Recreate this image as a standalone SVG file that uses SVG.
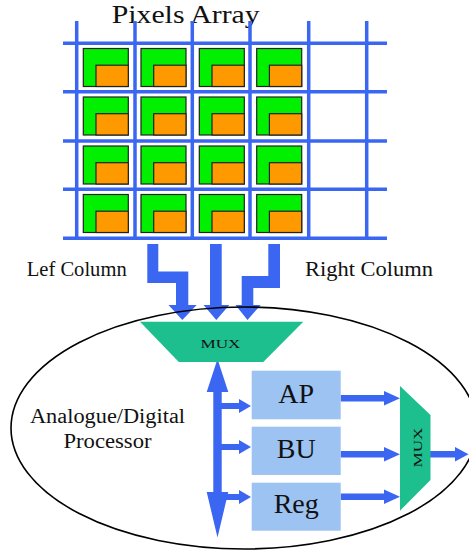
<svg xmlns="http://www.w3.org/2000/svg" xmlns:xlink="http://www.w3.org/1999/xlink" width="469" height="553" viewBox="0 0 469 553">
  <style>
    .grid { stroke: #3B66F2; stroke-width: 3.5; fill: none; }
    .arrow { fill: #3B66F2; stroke: none; }
    .mux { fill: #1DBF8E; stroke: none; }
    .block { fill: #9CC3F2; stroke: none; }
    .px-outer { fill: #00F000; stroke: #222; stroke-width: 1.2; }
    .px-inner { fill: #FF9900; stroke: #222; stroke-width: 1.2; }
  </style>
  <defs>
    <!-- one pixel cell: photodiode (green) with readout corner (orange) -->
    <g id="pixel">
      <rect class="px-outer" x="0" y="0" width="45" height="38"/>
      <rect class="px-inner" x="12.7" y="16.7" width="32.3" height="21.3"/>
    </g>
    <!-- horizontal arrow, tip at origin, pointing right -->
    <path id="harrow" d="M0,0 L-12,-7 L-12,-3 L-30,-3 L-30,3 L-12,3 L-12,7 Z"/>
  </defs>

  <rect width="469" height="553" fill="#fff"/>

  <!-- title -->
  <text font-family="'Liberation Serif', serif" fill="#111" x="111.7" y="22.7" font-size="25" textLength="148" lengthAdjust="spacingAndGlyphs">Pixels Array</text>
  <!-- column labels -->
  <text font-family="'Liberation Serif', serif" fill="#111" x="26.7" y="275.7" font-size="20" textLength="100" lengthAdjust="spacingAndGlyphs">Lef Column</text>
  <text font-family="'Liberation Serif', serif" fill="#111" x="305" y="276" font-size="20" textLength="128" lengthAdjust="spacingAndGlyphs">Right Column</text>
  <!-- processor label -->
  <g id="processor-label">
    <text font-family="'Liberation Serif', serif" fill="#111" x="107.5" y="423" font-size="20" text-anchor="middle" textLength="155" lengthAdjust="spacingAndGlyphs">Analogue/Digital</text>
    <text font-family="'Liberation Serif', serif" fill="#111" x="107.5" y="447.7" font-size="20" text-anchor="middle" textLength="88" lengthAdjust="spacingAndGlyphs">Processor</text>
  </g>

  <!-- pixel array -->
  <g id="pixel-array">
    <g id="pixels">
      <use xlink:href="#pixel" x="83.3" y="48.5"/>
      <use xlink:href="#pixel" x="141" y="48.5"/>
      <use xlink:href="#pixel" x="199.3" y="48.5"/>
      <use xlink:href="#pixel" x="256.7" y="48.5"/>
      <use xlink:href="#pixel" x="83.3" y="97"/>
      <use xlink:href="#pixel" x="141" y="97"/>
      <use xlink:href="#pixel" x="199.3" y="97"/>
      <use xlink:href="#pixel" x="256.7" y="97"/>
      <use xlink:href="#pixel" x="83.3" y="146"/>
      <use xlink:href="#pixel" x="141" y="146"/>
      <use xlink:href="#pixel" x="199.3" y="146"/>
      <use xlink:href="#pixel" x="256.7" y="146"/>
      <use xlink:href="#pixel" x="83.3" y="194.5"/>
      <use xlink:href="#pixel" x="141" y="194.5"/>
      <use xlink:href="#pixel" x="199.3" y="194.5"/>
      <use xlink:href="#pixel" x="256.7" y="194.5"/>
    </g>
    <g id="grid" class="grid">
      <line x1="76.7" y1="21" x2="76.7" y2="240"/>
      <line x1="135" y1="21" x2="135" y2="240"/>
      <line x1="192.3" y1="21" x2="192.3" y2="240"/>
      <line x1="250" y1="21" x2="250" y2="240"/>
      <line x1="308.7" y1="21" x2="308.7" y2="240"/>
      <line x1="366.7" y1="21" x2="366.7" y2="240"/>
      <line x1="63" y1="43.3" x2="387" y2="43.3"/>
      <line x1="63" y1="91.7" x2="387" y2="91.7"/>
      <line x1="63" y1="141" x2="387" y2="141"/>
      <line x1="63" y1="189.3" x2="387" y2="189.3"/>
      <line x1="63" y1="238.3" x2="387" y2="238.3"/>
    </g>
  </g>

  <!-- connectors -->
  <g id="connectors" class="arrow">
    <!-- column buses into the input multiplexer -->
    <polygon points="147.3,244 158.3,244 158.3,271.5 188.3,271.5 188.3,305 196.7,305 182.3,320 168.5,305 176,305 176,283 147.3,283"/>
    <polygon points="210,244 221.7,244 221.7,305 229.3,305 216.3,320 203.5,305 210,305"/>
    <polygon points="268.3,244 280,244 280,288 253.3,288 253.3,305 260.7,305 247.5,320 235.5,305 241.7,305 241.7,276 268.3,276"/>
    <!-- bidirectional internal bus -->
    <polygon points="217.5,359 228.3,392 221.7,392 221.7,492 228.3,492 217.5,537.5 206.7,492 213.3,492 213.3,392 206.7,392"/>
    <!-- bus taps to blocks -->
    <use xlink:href="#harrow" x="251" y="406"/>
    <use xlink:href="#harrow" x="251" y="447"/>
    <use xlink:href="#harrow" x="251" y="497"/>
    <!-- block outputs to output multiplexer -->
    <path d="M340.7,395 H384 V391 L400,398.3 L384,405.6 V401.6 H340.7 Z"/>
    <path d="M340.7,451 H384 V447 L400,454.3 L384,461.6 V457.6 H340.7 Z"/>
    <path d="M340.7,493.4 H384 V489.4 L400,496.7 L384,504 V500 H340.7 Z"/>
    <!-- processor output -->
    <path d="M430,451 H455 V447 L468.5,454.3 L455,461.6 V457.6 H430 Z"/>
  </g>

  <!-- processor boundary -->
  <ellipse id="processor" cx="244" cy="428" rx="233" ry="121" fill="none" stroke="#000" stroke-width="1.6"/>

  <!-- input multiplexer -->
  <g id="mux-in">
    <polygon class="mux" points="140,321.7 303.3,321.7 263.3,362 178.8,362"/>
    <text font-family="'Liberation Serif', serif" fill="#111" x="220.5" y="348.3" font-size="13" text-anchor="middle" textLength="40" lengthAdjust="spacingAndGlyphs">MUX</text>
  </g>

  <!-- processing blocks -->
  <g id="block-ap">
    <rect class="block" x="251.7" y="370.7" width="89" height="48.6"/>
    <text font-family="'Liberation Serif', serif" fill="#111" x="296.2" y="403.3" font-size="28" text-anchor="middle">AP</text>
  </g>
  <g id="block-bu">
    <rect class="block" x="251.7" y="426.7" width="89" height="48.3"/>
    <text font-family="'Liberation Serif', serif" fill="#111" x="296.2" y="458.3" font-size="28" text-anchor="middle">BU</text>
  </g>
  <g id="block-reg">
    <rect class="block" x="251.7" y="482.7" width="89" height="48"/>
    <text font-family="'Liberation Serif', serif" fill="#111" x="296.2" y="513.3" font-size="28" text-anchor="middle">Reg</text>
  </g>

  <!-- output multiplexer -->
  <g id="mux-out">
    <polygon class="mux" points="400,386 430.5,415 430.5,480 400,510.7"/>
    <text font-family="'Liberation Serif', serif" fill="#111" font-size="13" text-anchor="middle" textLength="40" lengthAdjust="spacingAndGlyphs" transform="translate(422.3,447.5) rotate(-90)">MUX</text>
  </g>
</svg>
